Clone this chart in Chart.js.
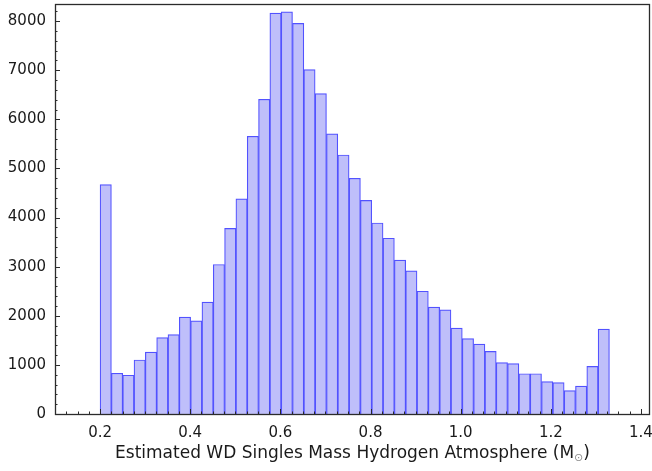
<!DOCTYPE html>
<html>
<head>
<meta charset="utf-8">
<script src="https://cdn.jsdelivr.net/npm/chart.js@4/dist/chart.umd.min.js"></script>
<style>
  html, body { margin: 0; padding: 0; background: #ffffff; }
  #wrap { width: 652px; height: 471px; }
</style>
</head>
<body>
<div id="wrap"><canvas id="hist" width="652" height="471"></canvas></div>
<script>
// Histogram of estimated white-dwarf masses (hydrogen atmosphere), 45 equal bins.
const binLow = 0.2;
const binHigh = 1.33;
const counts = [
  4670, 830, 790, 1100, 1260, 1555, 1615, 1975, 1895, 2280,
  3045, 3780, 4380, 5655, 6410, 8165, 8190, 7955, 7015, 6525,
  5705, 5275, 4800, 4350, 3890, 3580, 3135, 2915, 2500, 2175,
  2120, 1750, 1535, 1425, 1275, 1045, 1025, 820, 820, 660,
  640, 475, 570, 970, 1730
];
const xTicks = [0.2, 0.4, 0.6, 0.8, 1.0, 1.2, 1.4];
const yTicks = [0, 1000, 2000, 3000, 4000, 5000, 6000, 7000, 8000];
const xLabel = 'Estimated WD Singles Mass Hydrogen Atmosphere (M';
const sunSymbol = '\u2299';

const binWidth = (binHigh - binLow) / counts.length;
const points = counts.map((c, i) => ({ x: binLow + (i + 0.5) * binWidth, y: c }));

const FONT = "'DejaVu Sans', sans-serif";

// Scales keep no extra room for overhanging labels.
function noPadding(scale) {
  scale.paddingTop = 0;
  scale.paddingBottom = 0;
  scale.paddingLeft = 0;
  scale.paddingRight = 0;
}

// Frame, inward tick marks and the x-axis caption.
const framePlugin = {
  id: 'frame',
  afterDraw(chart) {
    const { ctx, chartArea: a, scales } = chart;
    const xs = scales.x, ys = scales.y;
    ctx.save();
    ctx.strokeStyle = '#2b2b2b';
    ctx.lineWidth = 1;
    const tick = (x1, y1, x2, y2) => { ctx.beginPath(); ctx.moveTo(x1, y1); ctx.lineTo(x2, y2); ctx.stroke(); };
    for (let k = 0; k * 0.025 + xs.min <= xs.max + 1e-9; k++) {
      const v = xs.min + k * 0.025;
      const px = Math.round(xs.getPixelForValue(v)) + 0.5;
      const major = Math.abs(v * 5 - Math.round(v * 5)) < 1e-6;
      tick(px, a.bottom, px, a.bottom - (major ? 5 : 2.5));
    }
    for (let v = 0; v <= ys.max; v += 200) {
      const py = Math.round(ys.getPixelForValue(v)) + 0.5;
      const major = v % 1000 === 0;
      tick(a.left, py, a.left + (major ? 5 : 2.5), py);
    }
    ctx.lineWidth = 1.3;
    ctx.strokeRect(a.left + 0.5, a.top + 0.5, a.right - a.left - 1, a.bottom - a.top);

    // x caption with subscript solar symbol
    ctx.fillStyle = '#1a1a1a';
    ctx.textBaseline = 'alphabetic';
    const mainFont = '17px ' + FONT;
    const subFont = '11px ' + FONT;
    ctx.font = mainFont;
    const w1 = ctx.measureText(xLabel).width;
    const w3 = ctx.measureText(')').width;
    ctx.font = subFont;
    const w2 = ctx.measureText(sunSymbol).width;
    const total = w1 + w2 + w3;
    const x0 = (a.left + a.right) / 2 - total / 2;
    const base = 458;
    ctx.textAlign = 'left';
    ctx.font = mainFont;
    ctx.fillText(xLabel, x0, base);
    ctx.font = subFont;
    ctx.fillStyle = '#8a8a8a';
    ctx.fillText(sunSymbol, x0 + w1, base + 3);
    ctx.fillStyle = '#1a1a1a';
    ctx.font = mainFont;
    ctx.fillText(')', x0 + w1 + w2, base);
    ctx.restore();
  }
};

new Chart(document.getElementById('hist'), {
  type: 'bar',
  data: {
    datasets: [{
      data: points,
      backgroundColor: 'rgb(191, 191, 250)',
      borderColor: 'rgb(82, 82, 255)',
      borderWidth: 1.2,
      borderSkipped: 'start',
      barPercentage: 1.0,
      categoryPercentage: 1.0
    }]
  },
  options: {
    responsive: false,
    devicePixelRatio: 1,
    animation: false,
    layout: { padding: { top: 4, right: 2, left: 0, bottom: 0 } },
    plugins: { legend: { display: false }, tooltip: { enabled: false } },
    scales: {
      x: {
        type: 'linear',
        min: 0.1,
        max: 1.42,
        offset: false,
        grid: { display: false, drawTicks: false },
        border: { display: false },
        afterBuildTicks(scale) { scale.ticks = xTicks.map(v => ({ value: v })); },
        afterFit(scale) { scale.height = 57; noPadding(scale); },
        ticks: {
          padding: 10,
          color: '#1a1a1a',
          font: { family: FONT, size: 15 },
          callback: v => v.toFixed(1),
          maxRotation: 0,
          autoSkip: false
        }
      },
      y: {
        min: 0,
        max: 8350,
        grid: { display: false, drawTicks: false },
        border: { display: false },
        afterBuildTicks(scale) { scale.ticks = yTicks.map(v => ({ value: v })); },
        afterFit(scale) { scale.width = 55; noPadding(scale); },
        ticks: {
          padding: 9,
          color: '#1a1a1a',
          font: { family: FONT, size: 15 },
          callback: v => String(v),
          autoSkip: false
        }
      }
    }
  },
  plugins: [framePlugin]
});
</script>
</body>
</html>
